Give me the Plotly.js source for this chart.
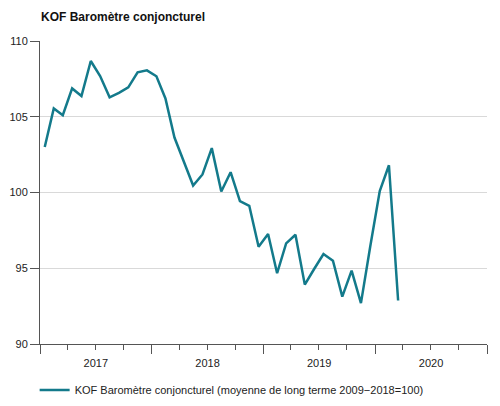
<!DOCTYPE html>
<html>
<head>
<meta charset="utf-8">
<script src="https://cdn.plot.ly/plotly-3.0.1.min.js"></script>
<style>html,body{margin:0;padding:0;background:#fff}#chart{width:500px;height:406px}</style>
</head>
<body>
<div id="chart"></div>
<script>
const months = ["2017-01","2017-02","2017-03","2017-04","2017-05","2017-06","2017-07","2017-08","2017-09","2017-10","2017-11","2017-12",
"2018-01","2018-02","2018-03","2018-04","2018-05","2018-06","2018-07","2018-08","2018-09","2018-10","2018-11","2018-12",
"2019-01","2019-02","2019-03","2019-04","2019-05","2019-06","2019-07","2019-08","2019-09","2019-10","2019-11","2019-12",
"2020-01","2020-02","2020-03"];
const kofValues = [103.0,105.55,105.1,106.87,106.37,108.68,107.69,106.28,106.58,106.94,107.93,108.06,
107.67,106.21,103.63,102.0,100.46,101.19,102.93,100.07,101.34,99.43,99.12,96.42,
97.26,94.67,96.64,97.21,93.92,94.95,95.94,95.5,93.13,94.84,92.7,96.45,
100.1,101.8,92.87];
const seriesName = "KOF Baromètre conjoncturel (moyenne de long terme 2009\u22122018=100)";
const chartTitle = "KOF Baromètre conjoncturel";
const yTicks = [90,95,100,105,110];

const trace = {
  x: months.map(m => m + "-01"),
  y: kofValues,
  type: "scatter",
  mode: "lines",
  name: seriesName,
  xperiod: "M1",
  xperiodalignment: "middle",
  line: {color: "#137a8b", width: 2.5},
  hoverinfo: "skip"
};

const layout = {
  width: 500, height: 406,
  margin: {l: 40, r: 13, t: 41, b: 62, autoexpand: false},
  paper_bgcolor: "#fff", plot_bgcolor: "#fff",
  font: {family: "Liberation Sans, Arial, sans-serif", size: 11, color: "#222"},
  title: {text: "<b>" + chartTitle + "</b>", x: 41/500, xref: "container", xanchor: "left",
          y: 1 - 17/406, yref: "container", yanchor: "middle",
          font: {family: "Liberation Sans, Arial, sans-serif", size: 12, color: "#111"}},
  showlegend: true,
  legend: {orientation: "h", x: -0.012, xanchor: "left", y: 1 - 390/406, yref: "container", yanchor: "middle",
           font: {size: 11, color: "#222"}, bgcolor: "rgba(0,0,0,0)"},
  xaxis: {
    type: "date",
    range: ["2017-01-01", "2021-01-01"],
    dtick: "M12", tick0: "2017-01-01",
    tickformat: "%Y", ticklabelmode: "period",
    ticks: "outside", ticklen: 9, tickcolor: "#555", tickwidth: 1,
    minor: {dtick: "M3", ticks: "outside", ticklen: 5, tickcolor: "#555", tickwidth: 1, showgrid: false},
    showline: true, linecolor: "#555", linewidth: 1,
    showgrid: false, zeroline: false, fixedrange: true,
    tickfont: {size: 11, color: "#222"}
  },
  yaxis: {
    range: [90, 110],
    tickvals: yTicks, ticktext: yTicks.map(String),
    ticks: "outside", ticklen: 9, tickcolor: "#555", tickwidth: 1,
    showline: true, linecolor: "#555", linewidth: 1,
    showgrid: true, gridcolor: "#d9d9d9", gridwidth: 1,
    zeroline: false, fixedrange: true,
    tickfont: {size: 11, color: "#222"}
  },
  shapes: [{type: "line", xref: "paper", x0: 0, x1: 1, yref: "y", y0: 100, y1: 100,
            line: {color: "#555", width: 1}, layer: "below"}]
};

Plotly.newPlot("chart", [trace], layout, {displayModeBar: false, staticPlot: true});
</script>
</body>
</html>
